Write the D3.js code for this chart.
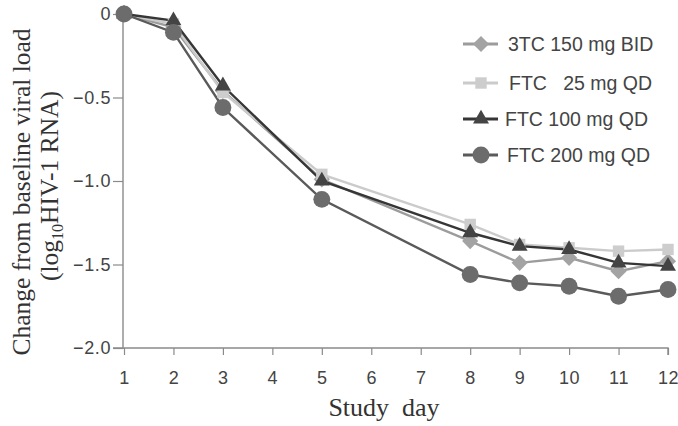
<!DOCTYPE html>
<html><head><meta charset="utf-8">
<script src="https://cdn.jsdelivr.net/npm/d3@7"></script>
<style>body{margin:0;background:#fff}</style>
</head><body>
<svg id="c" width="678" height="426"></svg>
<script>
const days = [1,2,3,5,8,9,10,11,12];
const xTicks = [1,2,3,4,5,6,7,8,9,10,11,12];
const yTicks = [0,-0.5,-1.0,-1.5,-2.0];
const yTickLabels = ["0","\u22120.5","\u22121.0","\u22121.5","\u22122.0"];
const names = ["3TC 150 mg BID","FTC   25 mg QD","FTC 100 mg QD","FTC 200 mg QD"];
const s3TC150 = [0,-0.08,-0.46,-0.99,-1.36,-1.49,-1.46,-1.54,-1.48];
const sFTC25  = [0,-0.06,-0.47,-0.96,-1.26,-1.38,-1.40,-1.42,-1.41];
const sFTC100 = [0,-0.04,-0.43,-1.00,-1.31,-1.39,-1.41,-1.49,-1.51];
const sFTC200 = [0,-0.11,-0.56,-1.11,-1.56,-1.61,-1.63,-1.69,-1.65];

const series = [
  {name:names[0], vals:s3TC150, line:"#9c9c9c", fill:"#a3a3a3", sym:d3.symbolSquare, size:130, rot:45},
  {name:names[1], vals:sFTC25,  line:"#cbcbcb", fill:"#cdcdcd", sym:d3.symbolSquare, size:130, rot:0},
  {name:names[2], vals:sFTC100, line:"#363636", fill:"#444444", sym:d3.symbolTriangle, size:110, rot:0},
  {name:names[3], vals:sFTC200, line:"#5a5a5a", fill:"#6c6c6c", sym:d3.symbolCircle, size:225, rot:0}
];

const svg = d3.select("#c");
const x = d3.scaleLinear().domain([1,12]).range([124,668]);
const y = d3.scaleLinear().domain([0,-2]).range([14,348]);
const axisCol = "#8a8a8a";
const sans = "Liberation Sans, Arial, sans-serif";
const serif = "Liberation Serif, Times New Roman, serif";

// y axis
const ya = svg.append("g").attr("transform","translate(123,0)")
  .call(d3.axisLeft(y).tickValues(yTicks).tickSize(10).tickFormat((d,i)=>yTickLabels[i]));
ya.select(".domain").attr("stroke",axisCol).attr("stroke-width",1.4).attr("d","M0,14V349");
ya.selectAll(".tick line").attr("stroke",axisCol).attr("stroke-width",1.2);
ya.selectAll(".tick text").attr("font-family",sans).attr("font-size",18).attr("letter-spacing",0.6)
  .attr("fill","#444").attr("x",-12);

// x axis
const xa = svg.append("g").attr("transform","translate(0,348)")
  .call(d3.axisBottom(x).tickValues(xTicks).tickSize(7).tickFormat(d3.format("d")));
xa.select(".domain").attr("stroke",axisCol).attr("stroke-width",1.4).attr("d","M113,0H668V7");
xa.selectAll(".tick line").attr("stroke",axisCol).attr("stroke-width",1.2);
xa.selectAll(".tick text").attr("font-family",sans).attr("font-size",18).attr("letter-spacing",0.6)
  .attr("fill","#444").attr("y",23);

// axis titles
svg.append("text").attr("x",384).attr("y",416).attr("text-anchor","middle")
  .attr("font-family",serif).attr("font-size",26).attr("fill","#333")
  .attr("xml:space","preserve").style("white-space","pre")
  .text("Study  day");
svg.append("text").attr("transform","translate(30,192) rotate(-90)").attr("text-anchor","middle")
  .attr("font-family",serif).attr("font-size",25.5).attr("fill","#333")
  .text("Change from baseline viral load");
const t2 = svg.append("text").attr("transform","translate(58,186) rotate(-90)").attr("text-anchor","middle")
  .attr("font-family",serif).attr("font-size",25.5).attr("fill","#333");
t2.append("tspan").text("(log");
t2.append("tspan").attr("font-size",16).attr("dy",5).text("10");
t2.append("tspan").attr("dy",-5).text("HIV-1 RNA)");

// lines and markers
const line = d3.line().x((d,i)=>x(days[i])).y(d=>y(d));
series.forEach(s=>{
  svg.append("path").attr("d",line(s.vals)).attr("fill","none").attr("stroke",s.line).attr("stroke-width",2.4);
});
series.forEach(s=>{
  svg.append("g").selectAll("path").data(s.vals).join("path")
    .attr("transform",(d,i)=>`translate(${x(days[i])},${y(d)}) rotate(${s.rot})`)
    .attr("d",d3.symbol().type(s.sym).size(s.size)).attr("fill",s.fill);
});

// legend
const rowsY = [44,83,119,155];
const textX = [508,509,505,507];
series.forEach((s,i)=>{
  const g = svg.append("g").attr("transform",`translate(0,${rowsY[i]})`);
  g.append("line").attr("x1",463).attr("x2",498).attr("stroke",s.line).attr("stroke-width",2.8);
  g.append("path").attr("transform",`translate(481,0) rotate(${s.rot})`)
    .attr("d",d3.symbol().type(s.sym).size(s.size)).attr("fill",s.fill);
  g.append("text").attr("x",textX[i]).attr("y",7).attr("font-family",sans)
    .attr("font-size",19.5).attr("fill","#444").attr("xml:space","preserve").style("white-space","pre").text(s.name);
});
</script>
</body></html>
